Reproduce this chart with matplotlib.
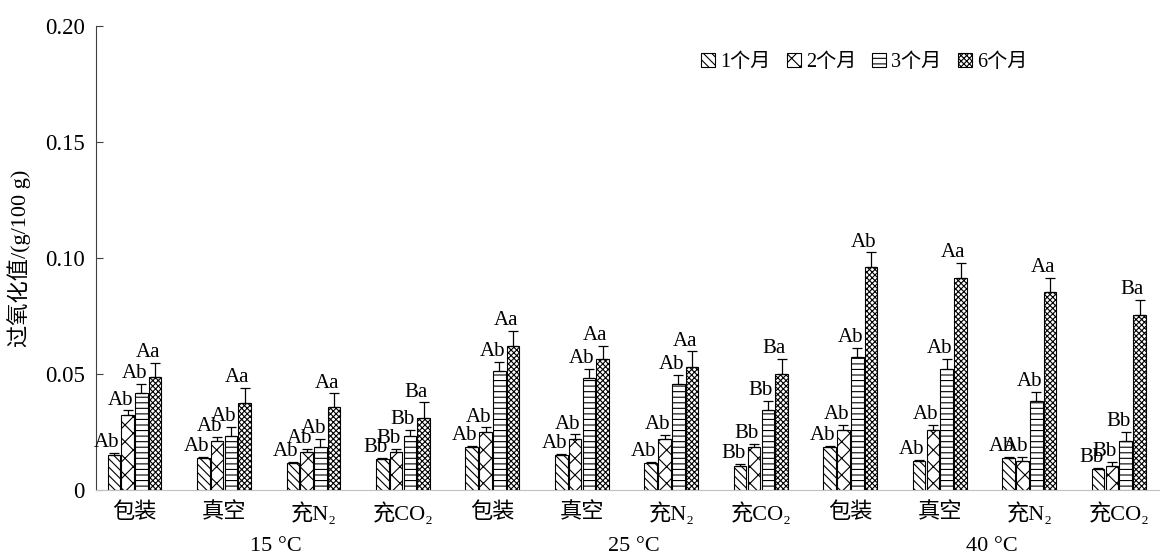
import numpy as np
import matplotlib
matplotlib.use("Agg")
import matplotlib.pyplot as plt
from matplotlib.patches import Patch
from matplotlib.transforms import blended_transform_factory

plt.rcParams['font.family'] = ['Liberation Serif', 'Noto Sans CJK SC', 'DejaVu Sans']
plt.rcParams['hatch.linewidth'] = 0.8

# categories
groups = ['包装', '真空', '充N₂', '充CO₂'] * 3
temps = ['15 °C', '25 °C', '40 °C']
series = ['1个月', '2个月', '3个月', '6个月']

# peroxide value means (g/100 g)
m1 = [0.0151, 0.0138, 0.0116, 0.0134, 0.0185, 0.0150, 0.0117, 0.0105, 0.0185, 0.0125, 0.0138, 0.0090]
m2 = [0.0323, 0.0210, 0.0163, 0.0163, 0.0250, 0.0220, 0.0220, 0.0185, 0.0260, 0.0260, 0.0127, 0.0105]
m3 = [0.0418, 0.0233, 0.0185, 0.0233, 0.0513, 0.0483, 0.0457, 0.0345, 0.0573, 0.0520, 0.0383, 0.0210]
m6 = [0.0487, 0.0375, 0.0357, 0.0310, 0.0620, 0.0565, 0.0530, 0.0500, 0.0960, 0.0913, 0.0853, 0.0755]

# error bars (upper only)
e1 = [0.0008, 0.0005, 0.0005, 0.0005, 0.0006, 0.0007, 0.0005, 0.0007, 0.0005, 0.0004, 0.0004, 0.0004]
e2 = [0.0020, 0.0020, 0.0013, 0.0013, 0.0020, 0.0020, 0.0018, 0.0015, 0.0020, 0.0020, 0.0015, 0.0017]
e3 = [0.0040, 0.0040, 0.0035, 0.0025, 0.0040, 0.0040, 0.0040, 0.0040, 0.0040, 0.0045, 0.0040, 0.0040]
e6 = [0.0060, 0.0065, 0.0060, 0.0068, 0.0065, 0.0055, 0.0068, 0.0065, 0.0065, 0.0065, 0.0060, 0.0065]

# significance letters
l1 = ['Ab', 'Ab', 'Ab', 'Bb', 'Ab', 'Ab', 'Ab', 'Bb', 'Ab', 'Ab', 'Ab', 'Bb']
l2 = ['Ab', 'Ab', 'Ab', 'Bb', 'Ab', 'Ab', 'Ab', 'Bb', 'Ab', 'Ab', 'Ab', 'Bb']
l3 = ['Ab', 'Ab', 'Ab', 'Bb', 'Ab', 'Ab', 'Ab', 'Bb', 'Ab', 'Ab', 'Ab', 'Bb']
l6 = ['Aa', 'Aa', 'Aa', 'Ba', 'Aa', 'Aa', 'Aa', 'Ba', 'Ab', 'Aa', 'Aa', 'Ba']

means = [m1, m2, m3, m6]
errs = [e1, e2, e3, e6]
letters = [l1, l2, l3, l6]
hatches = ['\\\\\\\\', 'xx', '---', 'xxxxxx']

fig = plt.figure(figsize=(11.6, 5.55), dpi=100)
ax = fig.add_axes([96 / 1160, 65 / 555, 1 - 96 / 1160, 464 / 555])

x = np.arange(len(groups))
step = 0.154
width = 0.14

for i in range(4):
    xi = x + (i - 1.5) * step
    ax.bar(xi, means[i], width, facecolor='white', edgecolor='black',
           linewidth=0.8, hatch=hatches[i])
    ax.errorbar(xi, means[i], yerr=[np.zeros(len(x)), errs[i]], fmt='none',
                ecolor='black', elinewidth=0.9, capsize=3.5, capthick=0.9)
    for j in range(len(x)):
        ax.annotate(letters[i][j], (xi[j] - 0.08, means[i][j] + errs[i][j]),
                    xytext=(0, 0.5), textcoords='offset points',
                    ha='center', va='bottom', fontsize=15)

ax.set_xlim(-0.43, 11.46)
ax.set_ylim(0, 0.20)
ax.set_yticks([0, 0.05, 0.10, 0.15, 0.20])
ax.set_yticklabels(['0', '0.05', '0.10', '0.15', '0.20'])
ax.tick_params(axis='y', direction='in', length=5, labelsize=16.5, pad=8, color='#404040')
ax.set_xticks(x)
ax.set_xticklabels(groups, fontsize=16)
ax.tick_params(axis='x', length=0, pad=9)

ax.spines['top'].set_visible(False)
ax.spines['right'].set_visible(False)
ax.spines['left'].set_color('#404040')
ax.spines['bottom'].set_color('#c0c0c0')

ax.set_ylabel('过氧化值/(g/100 g)', fontsize=16)
ax.yaxis.set_label_coords(-0.061, 0.5)

trans = blended_transform_factory(ax.transData, ax.transAxes)
for k, t in enumerate(temps):
    ax.text(1.5 + 4 * k + 0.08, -0.121, t, transform=trans, ha='center',
            va='center', fontsize=16)

handles = [Patch(facecolor='white', edgecolor='black', linewidth=0.8, hatch=h) for h in hatches]
fig.legend(handles, series, loc='center', bbox_to_anchor=(0.745, 0.888), ncol=4,
           frameon=False, fontsize=14.5, handlelength=0.7, handleheight=0.7,
           handletextpad=0.25, columnspacing=0.8)

fig.savefig('out.png', dpi=100)
